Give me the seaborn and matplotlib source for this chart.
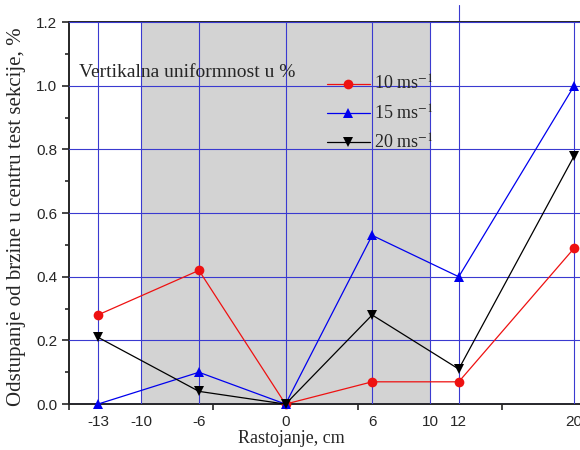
import matplotlib
matplotlib.use("Agg")
import matplotlib.pyplot as plt
import numpy as np
import pandas as pd
import seaborn as sns

# distance from center (cm) and deviation (%) per wind speed
distance = [-13, -6, 0, 6, 12, 20]
speed_10 = [0.28, 0.42, 0.00, 0.07, 0.07, 0.49]
speed_15 = [0.00, 0.10, 0.00, 0.53, 0.40, 1.00]
speed_20 = [0.21, 0.04, 0.00, 0.28, 0.11, 0.78]
series_names = ["10 ms$^{-1}$", "15 ms$^{-1}$", "20 ms$^{-1}$"]
x_tick_labels = [-13, -10, -6, 0, 6, 10, 12, 20]
test_section = (-10, 10)

sns.set_style("ticks")
plt.rcParams["font.family"] = ["Liberation Sans", "DejaVu Sans"]
plt.rcParams["mathtext.fontset"] = "stix"

SERIF = ["Liberation Serif", "DejaVu Serif"]
GRID = "#3a3ad0"

df = pd.DataFrame({
    "x": distance * 3,
    "y": speed_10 + speed_15 + speed_20,
    "series": np.repeat(series_names, len(distance)),
})

fig = plt.figure(figsize=(5.8, 4.5), dpi=100)
ax = fig.add_axes([0.119, 0.102, 0.881, 0.849])

ax.axvspan(*test_section, color="#d3d3d3", zorder=0, lw=0)

sns.lineplot(data=df, x="x", y="y", hue="series", style="series",
             palette=dict(zip(series_names, ["#ee1111", "#0000ee", "black"])),
             markers=dict(zip(series_names, ["o", "^", "v"])),
             dashes=False, markersize=7, markeredgewidth=0, linewidth=0.9,
             ax=ax, zorder=3, clip_on=False)

ax.set_xlim(-15, 20.4)
ax.set_ylim(0, 1.2)

ax.set_xticks(x_tick_labels)
ax.set_xticklabels([str(v) for v in x_tick_labels])
ax.set_xticks(np.arange(-15, 21, 5), minor=True)
ax.tick_params(axis="x", which="major", length=0, pad=8, labelsize=11)
ax.tick_params(axis="x", which="minor", length=4, width=1.2, direction="out")

ax.set_yticks(np.arange(0, 1.21, 0.2))
ax.set_yticklabels([f"{v:.1f}" for v in np.arange(0, 1.21, 0.2)])
ax.set_yticks(np.arange(0, 1.21, 0.1), minor=True)
ax.tick_params(axis="y", which="major", length=5, width=1.2, labelsize=11)
ax.tick_params(axis="y", which="minor", length=3, width=1.2)

ax.grid(True, which="major", color=GRID, linewidth=0.8, zorder=1)
ax.set_axisbelow(False)
for line in ax.get_xgridlines() + ax.get_ygridlines():
    line.set_zorder(1)

for side in ["left", "bottom", "top"]:
    ax.spines[side].set_linewidth(1.4)
ax.spines["right"].set_visible(False)

# gridline at 12 sticks out above the frame in the original
ax.plot([12, 12], [1.2, 1.255], color=GRID, lw=0.8, clip_on=False)

ax.set_xlabel("Rastojanje, cm", family=SERIF, fontsize=13)
ax.xaxis.set_label_coords(0.436, -0.068)
ax.set_ylabel("Odstupanje od brzine u centru test sekcije, %", family=SERIF, fontsize=15)
ax.yaxis.set_label_coords(-0.085, 0.49)

ax.text(-14.3, 1.04, "Vertikalna uniformnost u %", family=SERIF, fontsize=14,
        va="center", ha="left", zorder=5)

handles, labels = ax.get_legend_handles_labels()
leg = ax.legend(handles, labels, loc="upper left", bbox_to_anchor=(0.49, 0.88),
                frameon=False, handlelength=2.4, handletextpad=0.2,
                labelspacing=0.55, borderaxespad=0,
                prop={"family": SERIF, "size": 13})

fig.savefig("out.png", dpi=100)
